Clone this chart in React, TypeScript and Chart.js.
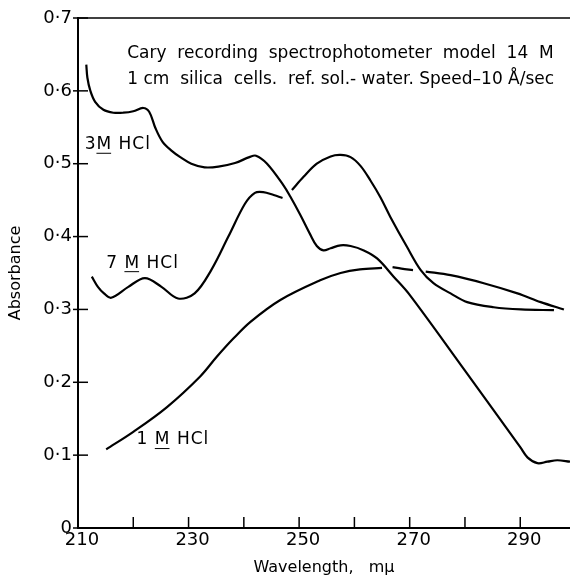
import { useEffect, useRef } from 'react';
import { Chart, registerables } from 'chart.js';

Chart.register(...registerables);

const FONT = '"DejaVu Sans", sans-serif';

// ---- data (wavelength in mμ, absorbance) ----
const wavelength3M = [211.5, 211.7, 212.2, 213.1, 214.6, 216.4, 218.2, 220.0, 221.8, 222.9, 224.0, 225.3, 226.9, 228.5, 230.5, 232.9, 235.4, 238.4, 241.0, 242.2, 244.2, 247.2, 248.4, 250.2, 252.0, 253.2, 254.4, 255.7, 257.5, 259.3, 261.7, 264.1, 267.1, 270, 280, 290, 291.3, 293.1, 294.9, 296.7, 299];
const absorbance3M = [0.636, 0.618, 0.601, 0.585, 0.574, 0.570, 0.570, 0.572, 0.5765, 0.571, 0.549, 0.530, 0.518, 0.509, 0.500, 0.495, 0.496, 0.501, 0.509, 0.511, 0.500, 0.470, 0.455, 0.430, 0.403, 0.387, 0.381, 0.384, 0.388, 0.387, 0.381, 0.370, 0.345, 0.320, 0.216, 0.111, 0.097, 0.089, 0.091, 0.093, 0.091];

const wavelength7M = [212.5, 213.6, 214.7, 216.0, 219.1, 222.1, 225.1, 228.1, 231.1, 234.1, 237.2, 240.2, 242.0, 243.5, 245.4, 247.0, 248.0, 248.7, 250.8, 253.2, 255.7, 257.5, 259.3, 261.1, 262.9, 264.7, 266.5, 269.5, 272.0, 274.3, 277.4, 280.4, 285.2, 290.1, 296.1];
const absorbance7M = [0.345, 0.331, 0.322, 0.316, 0.331, 0.343, 0.331, 0.315, 0.322, 0.354, 0.400, 0.445, 0.460, 0.461, 0.457, 0.453, null, 0.464, 0.482, 0.500, 0.510, 0.512, 0.509, 0.497, 0.477, 0.454, 0.427, 0.386, 0.354, 0.336, 0.322, 0.310, 0.303, 0.300, 0.299];

const wavelength1M = [215.1, 220.0, 226.1, 232.1, 235.1, 238.1, 241.2, 246.6, 253.8, 257.5, 261.0, 265.0, 266.0, 266.9, 268.5, 270.6, 271.7, 272.9, 277.4, 283.4, 289.5, 293.7, 297.9];
const absorbance1M = [0.108, 0.132, 0.166, 0.208, 0.235, 0.260, 0.283, 0.313, 0.340, 0.350, 0.355, 0.357, null, 0.358, 0.356, 0.354, null, 0.352, 0.347, 0.336, 0.322, 0.310, 0.300];

const xLabelTicks = [210, 230, 250, 270, 290];
const noteLines = [
  'Cary  recording  spectrophotometer  model  14  M',
  '1 cm  silica  cells.  ref. sol.- water. Speed\u201310 \u00C5/sec',
];
// curve labels: [before, underlined, after]
const curveLabels = [
  { parts: ['3', 'M', ' HCl'], at: [211.2, 0.526] },
  { parts: ['7 ', 'M', ' HCl'], at: [215.1, 0.3635] },
  { parts: ['1 ', 'M', ' HCl'], at: [220.6, 0.1207] },
];
const noteAnchor = [218.9, 0.651, 0.615];

const toPoints = (xs: number[], ys: (number | null)[]) => xs.map((x, i) => ({ x, y: ys[i] }));

const decorPlugin = {
  id: 'decor',
  afterDraw(chart: any) {
    const { ctx, chartArea, scales } = chart;
    const x = scales.x;
    const y = scales.y;
    ctx.save();
    ctx.strokeStyle = '#000';
    ctx.lineWidth = 1.5;
    // top frame line
    ctx.beginPath();
    ctx.moveTo(chartArea.left - 1, chartArea.top);
    ctx.lineTo(chartArea.right, chartArea.top);
    ctx.stroke();
    // inward x ticks
    x.ticks.forEach((t: any) => {
      const px = x.getPixelForValue(t.value);
      ctx.beginPath();
      ctx.moveTo(px, chartArea.bottom);
      ctx.lineTo(px, chartArea.bottom - 11);
      ctx.stroke();
    });
    // crossing y ticks
    y.ticks.forEach((t: any) => {
      const py = y.getPixelForValue(t.value);
      ctx.beginPath();
      ctx.moveTo(chartArea.left - 5, py);
      ctx.lineTo(chartArea.left + 10, py);
      ctx.stroke();
    });
    // notes
    ctx.fillStyle = '#000';
    ctx.textAlign = 'left';
    ctx.textBaseline = 'middle';
    ctx.font = `17px ${FONT}`;
    const nx = x.getPixelForValue(noteAnchor[0]);
    ctx.fillText(noteLines[0], nx, y.getPixelForValue(noteAnchor[1]));
    ctx.fillText(noteLines[1], nx, y.getPixelForValue(noteAnchor[2]));
    // curve labels
    ctx.font = `17px ${FONT}`;
    try { (ctx as any).letterSpacing = '1px'; } catch (e) { /* ignore */ }
    curveLabels.forEach((l) => {
      let px = x.getPixelForValue(l.at[0]);
      const py = y.getPixelForValue(l.at[1]);
      const [a, b, c] = l.parts;
      ctx.fillText(a, px, py);
      px += ctx.measureText(a).width;
      const wb = ctx.measureText(b).width;
      ctx.fillText(b, px, py);
      ctx.lineWidth = 1;
      ctx.beginPath();
      ctx.moveTo(px, py + 8.5);
      ctx.lineTo(px + wb - 1, py + 8.5);
      ctx.stroke();
      px += wb;
      ctx.fillText(c, px, py);
    });
    ctx.restore();
  },
};

export default function App() {
  const ref = useRef<HTMLCanvasElement | null>(null);
  useEffect(() => {
    if (!ref.current) return;
    const line = {
      borderColor: '#000',
      borderWidth: 2.2,
      pointRadius: 0,
      fill: false,
      spanGaps: false,
      tension: 0.35,
    };
    const chart = new Chart(ref.current, {
      type: 'line',
      data: {
        datasets: [
          { label: '3 M HCl', data: toPoints(wavelength3M, absorbance3M), ...line },
          { label: '7 M HCl', data: toPoints(wavelength7M, absorbance7M), ...line },
          { label: '1 M HCl', data: toPoints(wavelength1M, absorbance1M), ...line },
        ],
      },
      options: {
        animation: false,
        responsive: false,
        layout: { padding: { top: 18, right: 0, left: 0, bottom: 0 } },
        plugins: { legend: { display: false }, tooltip: { enabled: false } },
        scales: {
          x: {
            type: 'linear',
            min: 210,
            max: 299,
            afterFit: (s: any) => { s.height = 51; },
            grid: { display: true, drawOnChartArea: false, drawTicks: false },
            border: { display: true, color: '#000', width: 2 },
            ticks: {
              stepSize: 10,
              includeBounds: false,
              autoSkip: false,
              maxRotation: 0,
              padding: 2,
              labelOffset: 4,
              color: '#000',
              font: { family: FONT, size: 18 },
              callback: (v: any) => (xLabelTicks.includes(Number(v)) ? String(v) : ''),
            },
            title: {
              display: true,
              text: 'Wavelength,   m\u03BC',
              color: '#000',
              font: { family: FONT, size: 16 },
              padding: { top: 0, bottom: 2 },
            },
          },
          y: {
            type: 'linear',
            min: 0,
            max: 0.7,
            afterFit: (s: any) => { s.width = 78; },
            grid: { display: true, drawOnChartArea: false, drawTicks: false },
            border: { display: true, color: '#000', width: 2 },
            ticks: {
              stepSize: 0.1,
              padding: 6,
              color: '#000',
              font: { family: FONT, size: 18 },
              callback: (v: any) => (Number(v) === 0 ? '0' : Number(v).toFixed(1).replace('.', '\u00B7')),
            },
            title: {
              display: true,
              text: 'Absorbance',
              color: '#000',
              font: { family: FONT, size: 16 },
              padding: { top: 6, bottom: 0 },
            },
          },
        },
      },
      plugins: [decorPlugin],
    });
    return () => chart.destroy();
  }, []);
  return (
    <div style={{ position: 'absolute', left: 0, top: 0, width: 570, height: 579, background: '#fff' }}>
      <canvas ref={ref} width={570} height={579} />
    </div>
  );
}
